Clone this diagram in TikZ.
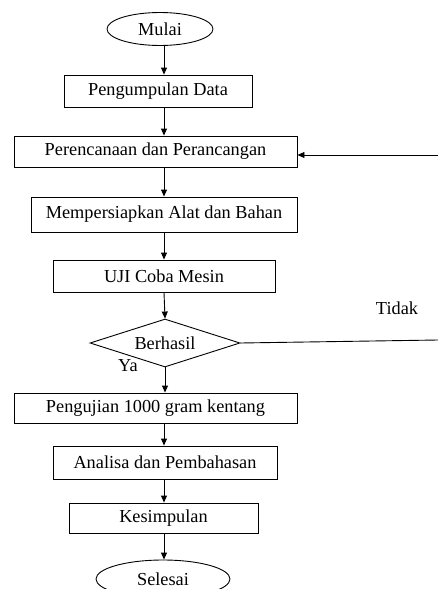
\documentclass[tikz,border=0pt]{standalone}
\usepackage{fontspec}
\setmainfont{Liberation Serif}
\usetikzlibrary{arrows.meta,shapes.geometric}
\begin{document}
\begin{tikzpicture}[x=1pt,y=-1pt,font=\fontsize{18.3}{21}\selectfont,
  box/.style={draw,rectangle,inner sep=0pt,line width=0.9pt},
  term/.style={draw,ellipse,inner sep=0pt,line width=0.9pt},
  dec/.style={draw,diamond,inner sep=0pt,aspect=3.1,line width=0.9pt},
  arr/.style={-{Triangle[length=7pt,width=6pt]},line width=0.9pt},
  lbl/.style={inner sep=0pt}]
\useasboundingbox (0,0) rectangle (438,589);
\clip (0,0) rectangle (438,589);
\coordinate (spine) at (164,0);
\node[term,minimum width=106pt,minimum height=33pt] (mulai) at (160,29) {Mulai};
\node[box,minimum width=188pt,minimum height=32pt] (data) at (158,91) {Pengumpulan Data};
\node[box,minimum width=283pt,minimum height=31pt] (rencana) at (155.5,151.5) {Perencanaan dan Perancangan};
\node[box,minimum width=266pt,minimum height=35pt] (siap) at (164,214.5) {Mempersiapkan Alat dan Bahan};
\node[box,minimum width=222pt,minimum height=32pt] (uji) at (164,276) {UJI Coba Mesin};
\node[dec,minimum width=150pt,minimum height=48pt] (hasil) at (165,343) {Berhasil};
\node[box,minimum width=283pt,minimum height=30pt] (kentang) at (155.5,408) {Pengujian 1000 gram kentang};
\node[box,minimum width=224pt,minimum height=33pt] (analisa) at (165,462.5) {Analisa dan Pembahasan};
\node[box,minimum width=189pt,minimum height=30pt] (simpul) at (163.5,518) {Kesimpulan};
\node[term,minimum width=134pt,minimum height=38pt] (selesai) at (163,579) {Selesai};
\node[lbl] (ya) at (128,366) {Ya};
\node[lbl] (tidak) at (397,308) {Tidak};
\coordinate (fb) at (438,155);
\coordinate (tend) at (438,340);
\draw[arr] (mulai.south -| spine) -- (data.north -| spine);
\draw[arr] (data.south -| spine) -- (rencana.north -| spine);
\draw[arr] (rencana.south -| spine) -- (siap.north -| spine);
\draw[arr] (siap.south -| spine) -- (uji.north -| spine);
\draw[arr] (uji.south -| spine) -- (hasil.north);
\draw[arr] (hasil.south) -- (kentang.north -| hasil.south);
\draw[arr] (kentang.south -| spine) -- (analisa.north -| spine);
\draw[arr] (analisa.south -| spine) -- (simpul.north -| spine);
\draw[arr] (simpul.south -| spine) -- (selesai.north -| spine);
\draw[line width=0.9pt] (hasil.east) -- (tend);
\draw[arr] (fb) -- (rencana.east |- fb);
\end{tikzpicture}
\end{document}
